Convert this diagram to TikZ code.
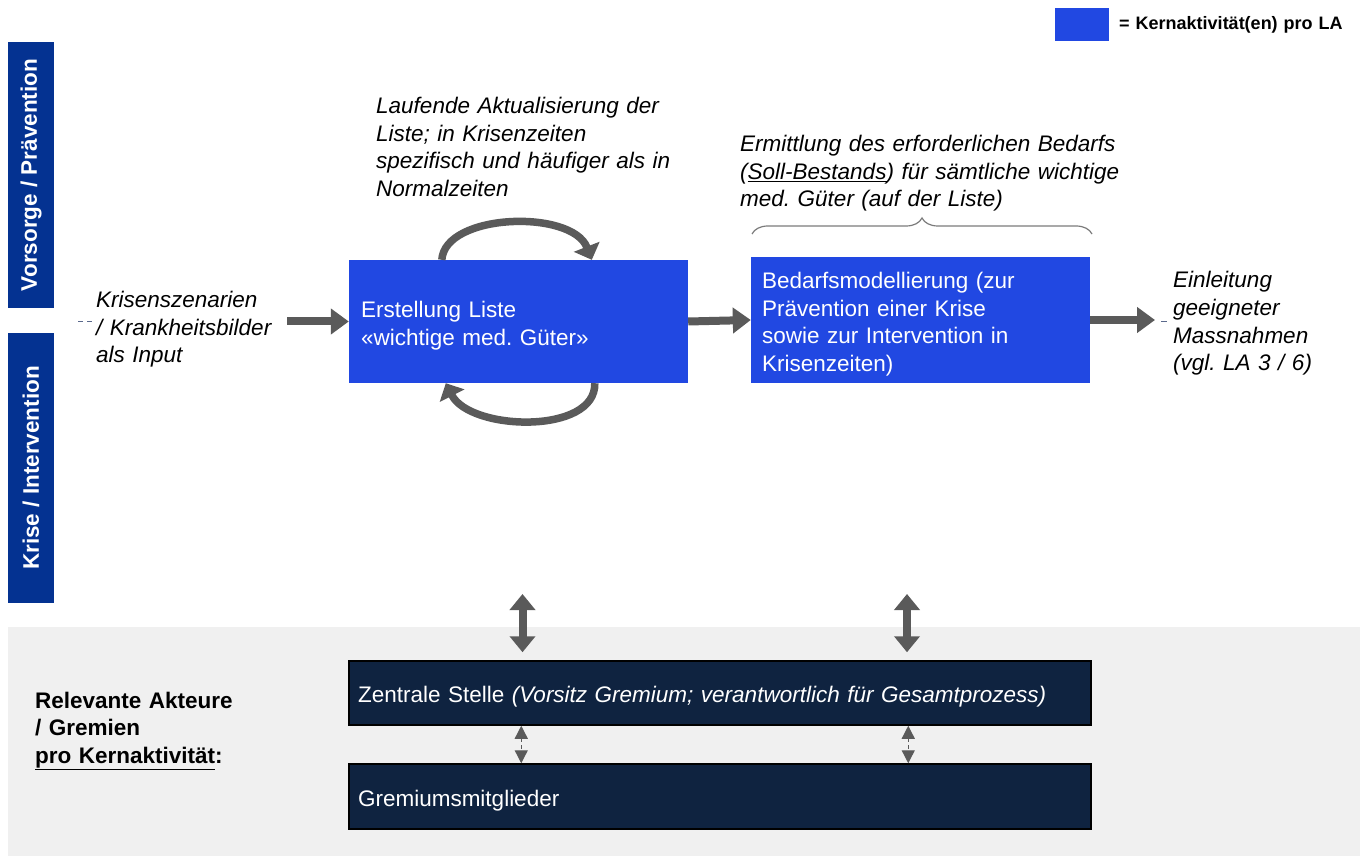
\documentclass[tikz,border=0pt]{standalone}
\usepackage{fontspec}
\setmainfont{Liberation Sans}
\usetikzlibrary{arrows.meta,decorations.pathreplacing,calc}
\frenchspacing

\definecolor{coreblue}{RGB}{33,72,226}
\definecolor{phaseblue}{RGB}{4,50,145}
\definecolor{navybox}{RGB}{15,35,64}
\definecolor{arrowgray}{RGB}{90,90,90}
\definecolor{bandgray}{RGB}{240,240,240}
\definecolor{dashblue}{RGB}{90,105,140}

\begin{document}
\begin{tikzpicture}[x=1pt,y=-1pt,
  base font/.style={font=\fontsize{22.5}{27.5}\selectfont},
  txt/.style={base font, inner sep=0pt, anchor=base west, align=left, text width=420pt},
  itxt/.style={txt, font=\fontsize{22.5}{27.5}\selectfont\itshape},
  btxt/.style={txt, font=\fontsize{22.5}{27.5}\selectfont\bfseries},
  % the taller text box sets the lines a little below the box centre
  corebox/.style={fill=coreblue, draw=none, text=white, base font, align=left,
    inner xsep=12pt, text width=315pt, minimum width=339pt, text height=24.5pt},
  navyrow/.style={fill=navybox, draw=black, line width=1.5pt, text=white, base font, align=left,
    inner xsep=9pt, text width=724pt, minimum width=742pt, minimum height=64pt, text height=24.5pt},
  phasebar/.style={fill=phaseblue, text=white, rotate=90, inner sep=0pt,
    font=\fontsize{22.5}{26}\selectfont\bfseries, minimum height=46pt},
  blockarrow/.style={draw=arrowgray, line width=8pt, -{Triangle[width=25pt,length=18pt]}},
  looparrow/.style={draw=arrowgray, line width=7.5pt, -{Triangle[width=27pt,length=14pt]}},
  dblarrow/.style={draw=arrowgray, line width=8pt,
    {Triangle[width=25pt,length=16pt]}-{Triangle[width=25pt,length=16pt]}},
  thinlink/.style={draw=arrowgray, line width=1.3pt, dash pattern=on 4pt off 3pt,
    {Triangle[width=13pt,length=13pt]}-{Triangle[width=13pt,length=13pt]}},
  tick/.style={draw=dashblue, line width=1pt},
]
\useasboundingbox (0,0) rectangle (1367,858);
\fill[white] (0,0) rectangle (1367,858);

% grey band for the actors
\fill[bandgray] (8,627) rectangle (1360,856);

% legend
\node[fill=coreblue, minimum width=54pt, minimum height=33pt, inner sep=0pt] (legendbox) at (1082,24.5) {};
\node[txt, font=\fontsize{18}{22}\selectfont\bfseries, text width=250pt] (legendtext) at (1119,30) {= Kernaktivität(en) pro LA};

% phase bars
\node[phasebar, minimum width=266pt] (phaseprev) at (31,175) {Vorsorge / Prävention};
\node[phasebar, minimum width=270pt] (phasecrisis) at (31,468) {Krise / Intervention};

% core activities
\node[corebox, minimum height=123pt] (box1) at (518.5,321.5) {Erstellung Liste\\«wichtige med. Güter»};
\node[corebox, minimum height=126pt, inner xsep=11pt, text width=317pt] (box2) at (920.5,320)
  {Bedarfsmodellierung (zur\\Prävention einer Krise\\sowie zur Intervention in\\Krisenzeiten)};

% free texts
\node[itxt] (input) at (96,308) {Krisenszenarien\\/ Krankheitsbilder\\als Input};
\node[itxt] (update) at (376,114) {Laufende Aktualisierung der\\Liste; in Krisenzeiten\\spezifisch und häufiger als in\\Normalzeiten};
\node[itxt] (demand) at (740,152) {Ermittlung des erforderlichen Bedarfs\\(\underline{Soll-Bestands}) für sämtliche wichtige\\med. Güter (auf der Liste)};
\node[itxt, text width=200pt] (measures) at (1173,288) {Einleitung\\geeigneter\\Massnahmen\\(vgl. LA 3 / 6)};

% input and output connectors
\coordinate (instart) at (287,321.5);
\coordinate (outend) at (1155,320);
\draw[tick, dash pattern=on 5pt off 4pt] (78,322) -- (95,322);
\draw[blockarrow] (instart) -- (box1.west);
\draw[blockarrow] (box1.east) -- (box2.west);
\draw[blockarrow] (box2.east) -- (outend);
\draw[tick] (1161,322) -- (1167,322);

% brace over the demand modelling
\draw[decorate, decoration={brace, amplitude=16pt}, draw=arrowgray!80, line width=1.2pt]
  (752,234) -- (1092,234);

% update loops around the list
\draw[looparrow] ([xshift=93pt]box1.north west) .. controls (445,213) and (572,209) .. ([xshift=243pt]box1.north west);
\draw[looparrow] ([xshift=246pt]box1.south west) .. controls (596,435) and (470,431) .. ([xshift=97pt]box1.south west);

% actors
\node[navyrow] (central) at (720,693)
  {Zentrale Stelle \textit{(Vorsitz Gremium; verantwortlich für Gesamtprozess)}};
\node[navyrow, minimum height=65pt] (members) at (720,796.5) {Gremiumsmitglieder};
\node[btxt] (actors) at (35,708) {Relevante Akteure\\/ Gremien\\\underline{pro Kernaktivität}:};

% links between phases and actors
\coordinate (linkL) at (522.5,594);
\coordinate (linkR) at (907,594);
\draw[dblarrow, shorten >=8pt] (linkL) -- (linkL |- central.north);
\draw[dblarrow, shorten >=8pt] (linkR) -- (linkR |- central.north);
\draw[thinlink] ([xshift=173pt]central.south west) -- ([xshift=173pt]members.north west);
\draw[thinlink] ([xshift=560pt]central.south west) -- ([xshift=560pt]members.north west);
\end{tikzpicture}
\end{document}
